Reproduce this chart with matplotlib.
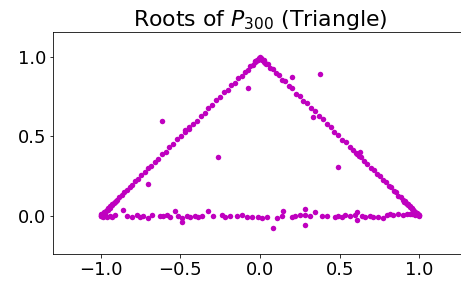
import matplotlib
matplotlib.use("Agg")
import matplotlib.pyplot as plt

# roots, grouped by where they sit
left_x = [-1.000, -0.995, -0.988, -0.980, -0.972, -0.962, -0.950, -0.938, -0.925, -0.912,
          -0.898, -0.884, -0.868, -0.852, -0.835, -0.818, -0.800, -0.782, -0.763, -0.744,
          -0.724, -0.703, -0.682, -0.660, -0.638, -0.615, -0.592, -0.568, -0.544, -0.520,
          -0.496, -0.472, -0.447, -0.422, -0.398, -0.373, -0.348, -0.323, -0.298, -0.274,
          -0.250, -0.226, -0.203, -0.180, -0.158, -0.137, -0.116, -0.097, -0.078, -0.061,
          -0.045, -0.031, -0.019, -0.009, -0.002]
left_y = [0.004, 0.010, 0.014, 0.022, 0.026, 0.040, 0.048, 0.064, 0.073, 0.090,
          0.100, 0.118, 0.130, 0.150, 0.163, 0.185, 0.197, 0.221, 0.235, 0.259,
          0.274, 0.300, 0.316, 0.342, 0.358, 0.388, 0.405, 0.434, 0.452, 0.482,
          0.500, 0.530, 0.549, 0.580, 0.598, 0.630, 0.648, 0.680, 0.698, 0.729,
          0.746, 0.777, 0.794, 0.824, 0.839, 0.866, 0.880, 0.905, 0.918, 0.942,
          0.952, 0.972, 0.978, 0.992, 0.996]

right_x = [0.004, 0.012, 0.022, 0.034, 0.048, 0.063, 0.080, 0.098, 0.117, 0.137,
           0.158, 0.180, 0.202, 0.225, 0.249, 0.272, 0.296, 0.320, 0.345, 0.369,
           0.394, 0.418, 0.443, 0.467, 0.492, 0.516, 0.540, 0.563, 0.586, 0.609,
           0.631, 0.653, 0.674, 0.695, 0.715, 0.735, 0.754, 0.772, 0.790, 0.807,
           0.823, 0.839, 0.854, 0.868, 0.882, 0.895, 0.907, 0.919, 0.930, 0.940,
           0.950, 0.959, 0.968, 0.976, 0.984, 0.991, 0.997]
right_y = [0.992, 0.984, 0.982, 0.962, 0.958, 0.933, 0.925, 0.897, 0.888, 0.858,
           0.848, 0.816, 0.805, 0.770, 0.756, 0.724, 0.708, 0.676, 0.660, 0.627,
           0.610, 0.578, 0.560, 0.528, 0.512, 0.480, 0.464, 0.432, 0.418, 0.387,
           0.373, 0.343, 0.330, 0.302, 0.289, 0.262, 0.250, 0.224, 0.214, 0.189,
           0.180, 0.157, 0.149, 0.128, 0.122, 0.101, 0.096, 0.077, 0.073, 0.056,
           0.052, 0.037, 0.034, 0.021, 0.018, 0.008, 0.004]

base_x = [-0.995, -0.985, -0.972, -0.958, -0.940, -0.925, -0.909, -0.857, -0.836, -0.805,
          -0.773, -0.752, -0.731, -0.700, -0.679, -0.627, -0.606, -0.585, -0.564, -0.533,
          -0.512, -0.491, -0.460, -0.439, -0.408, -0.387, -0.366, -0.324, -0.293, -0.240,
          -0.219, -0.188, -0.146, -0.115, -0.083, -0.052, -0.010, 0.010, 0.042, 0.105,
          0.136, 0.146, 0.199, 0.219, 0.251, 0.282, 0.282, 0.313, 0.345, 0.387,
          0.418, 0.470, 0.491, 0.512, 0.533, 0.564, 0.596, 0.606, 0.606, 0.637,
          0.658, 0.690, 0.710, 0.742, 0.773, 0.794, 0.815, 0.836, 0.867, 0.898,
          0.919, 0.940, 0.955, 0.972, 0.988]
base_y = [0.000, -0.006, 0.004, -0.004, 0.002, -0.008, 0.006, 0.040, 0.002, -0.004,
          0.004, -0.006, 0.002, -0.010, 0.004, -0.002, 0.000, 0.004, -0.004, 0.032,
          -0.002, -0.010, 0.002, -0.006, 0.000, -0.004, 0.002, 0.030, -0.002, 0.004,
          -0.004, 0.002, -0.002, 0.004, -0.006, -0.004, -0.006, -0.012, -0.008, -0.010,
          0.002, 0.030, -0.004, 0.000, 0.004, 0.042, 0.006, 0.000, 0.028, 0.000,
          0.002, -0.008, 0.000, -0.006, 0.004, 0.000, 0.006, 0.022, -0.024, 0.002,
          -0.004, 0.000, -0.008, -0.004, -0.014, 0.008, 0.010, 0.006, 0.010, 0.008,
          0.012, 0.010, 0.014, 0.006, 0.004]

# second layer of roots bunched near the corners
corner_x = [-0.998, -0.992, -0.984, -0.976, -0.966, -0.955, -0.943, -0.930, -0.916, -0.902,
            -0.030, -0.022, -0.014, -0.006, 0.000, 0.008, 0.016, 0.026, 0.040,
            0.904, 0.916, 0.928, 0.940, 0.952, 0.962, 0.972, 0.981, 0.989, 0.995, 1.000,
            -0.470, -0.445, 0.600, 0.620]
corner_y = [0.000, 0.004, 0.010, 0.018, 0.030, 0.040, 0.052, 0.066, 0.080, 0.094,
            0.966, 0.974, 0.984, 0.990, 0.998, 0.990, 0.980, 0.970, 0.956,
            0.090, 0.082, 0.068, 0.060, 0.046, 0.036, 0.026, 0.018, 0.010, 0.004, 0.000,
            0.540, 0.560, 0.395, 0.375]

# stray roots off the triangle
out_x = [-0.614, -0.263, -0.700, -0.075, 0.200, 0.376, 0.330, 0.490, -0.491, 0.084, 0.282, 0.627]
out_y = [0.597, 0.371, 0.200, 0.805, 0.875, 0.893, 0.620, 0.310, -0.040, -0.078, -0.057, 0.400]

xs = left_x + right_x + base_x + corner_x + out_x
ys = left_y + right_y + base_y + corner_y + out_y

fig = plt.figure(figsize=(461 / 72, 285 / 72), dpi=72)
ax = fig.add_axes([53 / 461, 31 / 285, 414 / 461, 222 / 285])
ax.scatter(xs, ys, s=30, c='m', linewidths=0)

ax.set_xlim(-1.298, 1.298)
ax.set_ylim(-0.239, 1.157)
ax.set_xticks([-1.0, -0.5, 0.0, 0.5, 1.0])
ax.set_yticks([0.0, 0.5, 1.0])
ax.tick_params(labelsize=18)
ax.set_title("Roots of $P_{300}$ (Triangle)", fontsize=22)

fig.savefig("out.png", dpi=72)
